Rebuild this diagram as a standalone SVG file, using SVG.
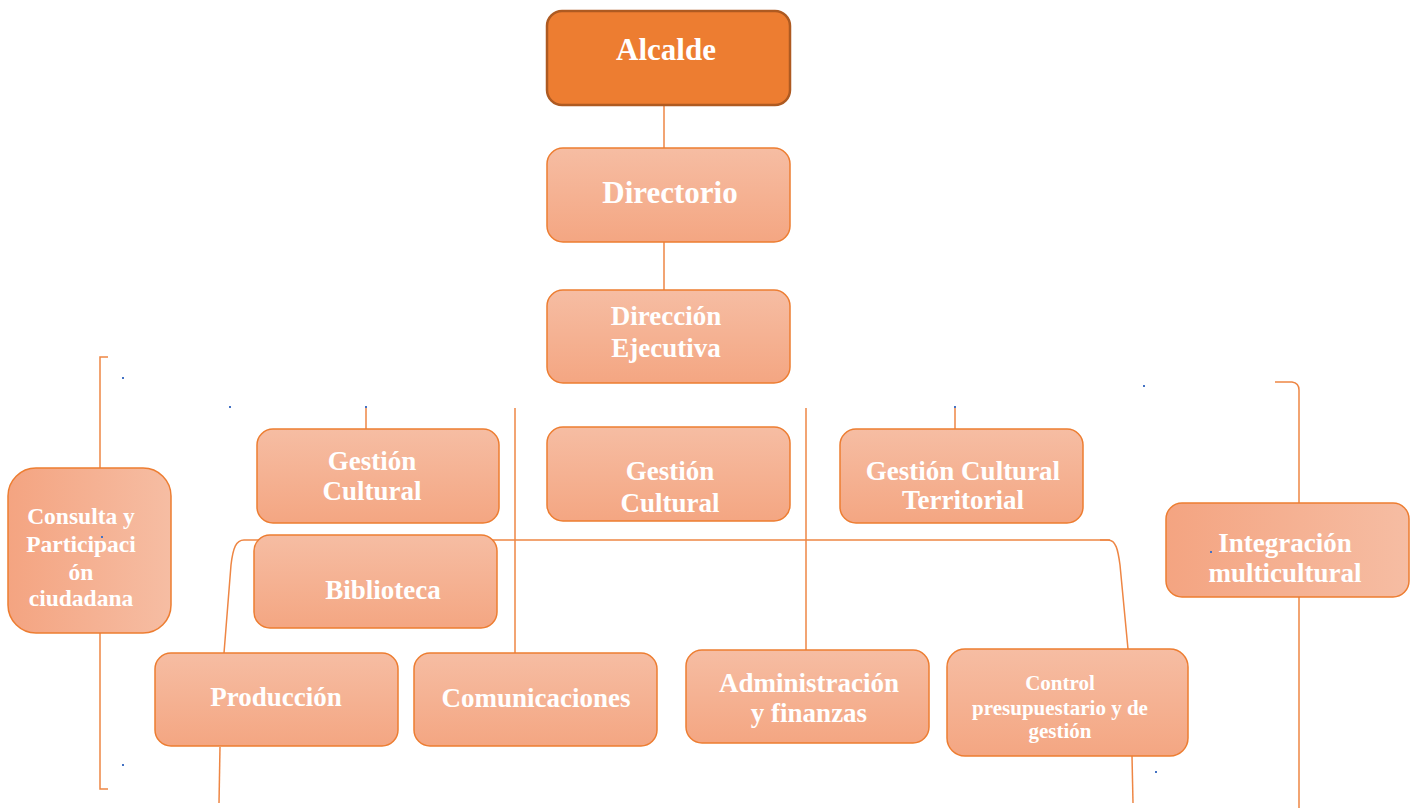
<svg xmlns="http://www.w3.org/2000/svg" width="1418" height="808" viewBox="0 0 1418 808">
<defs>
<linearGradient id="gv" x1="0" y1="0" x2="0" y2="1">
<stop offset="0" stop-color="#F6BDA3"/>
<stop offset="1" stop-color="#F4A682"/>
</linearGradient>
<linearGradient id="gh" x1="0" y1="0" x2="1" y2="0">
<stop offset="0" stop-color="#F4A481"/>
<stop offset="1" stop-color="#F6BDA3"/>
</linearGradient>
<style>
.box{fill:url(#gv);stroke:#ED7D31;stroke-width:1.5}
.boxh{fill:url(#gh);stroke:#ED7D31;stroke-width:1.5}
.top{fill:#ED7D31;stroke:#AE5A21;stroke-width:2.5}
.t{font-family:"Liberation Serif","Times New Roman",serif;font-weight:bold;fill:#FFFFFF;text-anchor:middle}
.c{fill:none;stroke:#EE8644;stroke-width:1.5}
.dot{fill:#4472C4}
</style>
</defs>
<g id="connectors">
<path class="c" d="M664 105 V148"/>
<path class="c" d="M664 242 V290"/>
<path class="c" d="M366 407 V429"/>
<path class="c" d="M955 407 V429"/>
<path class="c" d="M515 408 V653"/>
<path class="c" d="M806 408 V650"/>
<path class="c" d="M1110 540 H244 C236 540 233 548 231 565 L224 653"/>
<path class="c" d="M1100 540 H1108 C1116 540 1118 550 1120 565 L1128 649"/>
<path class="c" d="M220 747 L219 803"/>
<path class="c" d="M1132 756 L1133 803"/>
<path class="c" d="M108 357 H100 V789 H108"/>
<path class="c" d="M1275 382 H1292 Q1299 383 1299 390 V808"/>
</g>
<g id="alcalde"><rect class="top" x="547" y="11" width="243" height="94" rx="15"/><text class="t" x="666" y="60" font-size="31">Alcalde</text></g>
<g id="directorio"><rect class="box" x="547" y="148" width="243" height="94" rx="16"/><text class="t" x="670" y="203" font-size="31">Directorio</text></g>
<g id="direccion"><rect class="box" x="547" y="290" width="243" height="93" rx="16"/><text class="t" x="666" y="325" font-size="27">Dirección</text><text class="t" x="666" y="357" font-size="27">Ejecutiva</text></g>
<g id="consulta"><rect class="boxh" x="8" y="468" width="163" height="165" rx="28"/><text class="t" x="81" y="524" font-size="23.5">Consulta y</text><text class="t" x="81" y="552" font-size="23.5">Participaci</text><text class="t" x="81" y="580" font-size="23.5">ón</text><text class="t" x="81" y="606" font-size="23.5">ciudadana</text></g>
<g id="gestion1"><rect class="box" x="257" y="429" width="242" height="94" rx="16"/><text class="t" x="372" y="470" font-size="27">Gestión</text><text class="t" x="372" y="500" font-size="27">Cultural</text></g>
<g id="gestion2"><rect class="box" x="547" y="427" width="243" height="94" rx="16"/><text class="t" x="670" y="480" font-size="27">Gestión</text><text class="t" x="670" y="512" font-size="27">Cultural</text></g>
<g id="territorial"><rect class="box" x="840" y="429" width="243" height="94" rx="16"/><text class="t" x="963" y="480" font-size="27">Gestión Cultural</text><text class="t" x="963" y="509" font-size="27">Territorial</text></g>
<g id="integracion"><rect class="boxh" x="1166" y="503" width="243" height="94" rx="16"/><text class="t" x="1285" y="552" font-size="27">Integración</text><text class="t" x="1285" y="582" font-size="27">multicultural</text></g>
<g id="biblioteca"><rect class="box" x="254" y="535" width="243" height="93" rx="16"/><text class="t" x="383" y="599" font-size="27">Biblioteca</text></g>
<g id="produccion"><rect class="box" x="155" y="653" width="243" height="93" rx="16"/><text class="t" x="276" y="706" font-size="27">Producción</text></g>
<g id="comunicaciones"><rect class="box" x="414" y="653" width="243" height="93" rx="16"/><text class="t" x="536" y="707" font-size="27">Comunicaciones</text></g>
<g id="administracion"><rect class="box" x="686" y="650" width="243" height="93" rx="16"/><text class="t" x="809" y="692" font-size="27">Administración</text><text class="t" x="809" y="722" font-size="27">y finanzas</text></g>
<g id="control"><rect class="box" x="947" y="649" width="241" height="107" rx="18"/><text class="t" x="1060" y="690" font-size="21">Control</text><text class="t" x="1060" y="715" font-size="21">presupuestario y de</text><text class="t" x="1060" y="738" font-size="21">gestión</text></g>
<g id="marks">
<rect class="dot" x="122" y="377" width="2" height="2"/>
<rect class="dot" x="229" y="406" width="2" height="2"/>
<rect class="dot" x="365" y="406" width="2" height="2"/>
<rect class="dot" x="954" y="406" width="2" height="2"/>
<rect class="dot" x="1143" y="385" width="2" height="2"/>
<rect class="dot" x="122" y="764" width="2" height="2"/>
<rect class="dot" x="101" y="536" width="2" height="2"/>
<rect class="dot" x="1155" y="771" width="2" height="2"/>
<rect class="dot" x="1210" y="551" width="2" height="2"/>
</g>
</svg>
